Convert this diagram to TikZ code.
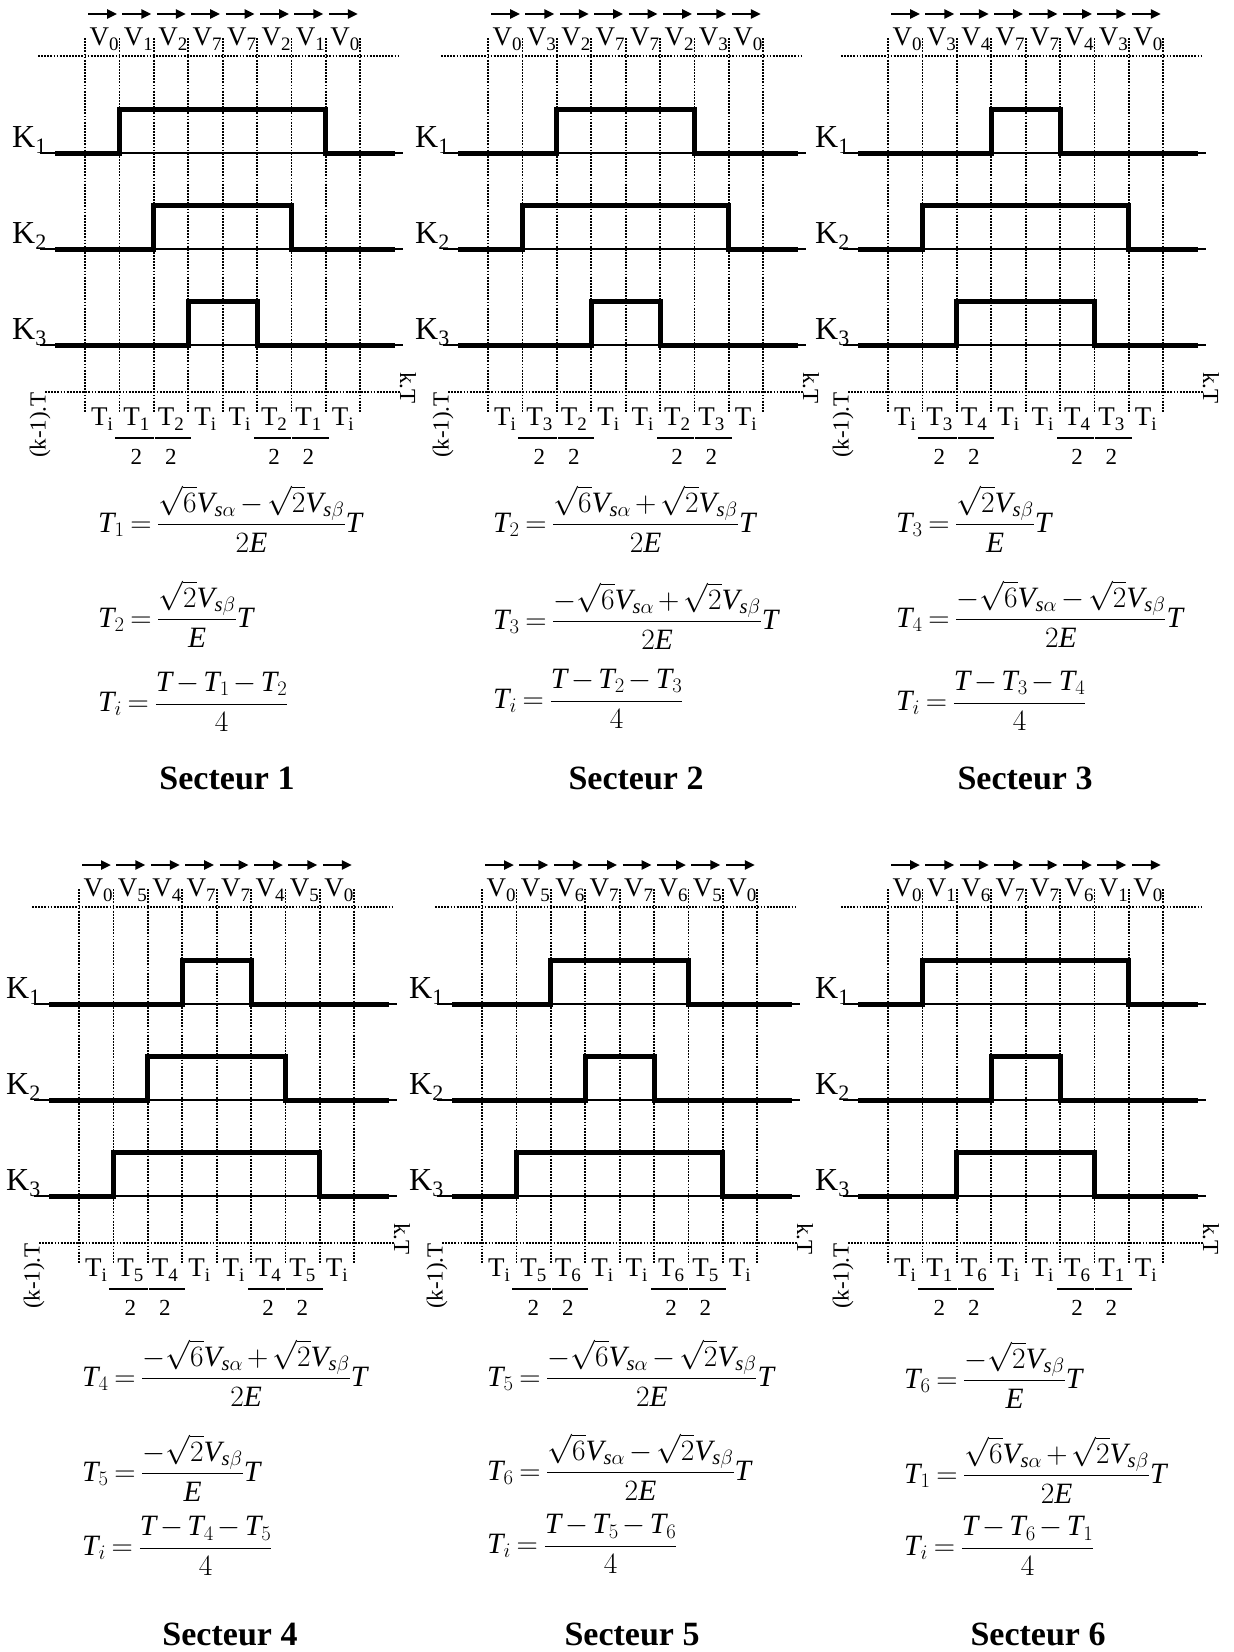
\RequirePackage{fix-cm}
\documentclass[tikz,border=0pt]{standalone}
\usepackage{amsmath}
\usepackage{fontspec}
\setmainfont{Liberation Serif}
\usetikzlibrary{arrows.meta}
\newcommand\iT{\textit{T}}
\newcommand\iV{\textit{V}}
\newcommand\iE{\textit{E}}
\newcommand\iS{\textit{s}}
\newcommand\sbx[2][19]{\raisebox{-0.2em}{\fontsize{#1}{#1}\selectfont #2}}
\newcommand\eqset{\fontsize{29.5}{36}\selectfont\medmuskip=2.5mu\thickmuskip=3.5mu}
\tikzset{
 dotln/.style={line width=1.8pt, dash pattern=on 1.8pt off 1.3pt},
 mywave/.style={line width=5pt, line join=miter, line cap=butt},
 baseln/.style={line width=1.2pt},
 myvec/.style={line width=2.4pt, -{Triangle[length=10pt,width=9pt]}},
 vlab/.style={inner sep=0pt, anchor=base, font=\fontsize{27}{30}\selectfont},
 tlab/.style={inner sep=0pt, anchor=base, font=\fontsize{27}{30}\selectfont},
 klab/.style={inner sep=0pt, anchor=base west, font=\fontsize{32}{36}\selectfont},
 twolab/.style={inner sep=0pt, anchor=base, font=\fontsize{23}{26}\selectfont},
 fbar/.style={line width=2.6pt},
 sidelab/.style={inner sep=0pt, font=\fontsize{23}{26}\selectfont},
 eqn/.style={inner sep=0pt, anchor=west, font=\eqset},
 sectitle/.style={inner sep=0pt, font=\fontsize{34}{40}\selectfont\bfseries},
}
\begin{document}
\begin{tikzpicture}[x=1pt,y=-1pt]
\fill[white] (0,0) rectangle (1234,1652);
\useasboundingbox (0,0) rectangle (1234,1652);
\foreach \sx/\sy/\sn/\va/\vb/\ka/\kb/\kc in {85/0/1/1/2/2/3/4, 488/0/2/3/2/3/2/4, 888/0/3/3/4/4/2/3, 79/851/4/5/4/4/3/2, 482/851/5/5/6/3/4/2, 888/851/6/1/6/2/4/3}{
  \draw[dotln] ({\sx-47},{\sy+56}) -- ({\sx+315},{\sy+56});
  \draw[dotln] ({\sx-40},{\sy+392}) -- ({\sx+315},{\sy+392});
  \foreach \idx in {0,...,8}
    \draw[dotln] ({\sx+\idx*34.4},{\sy+38}) -- ({\sx+\idx*34.4},{\sy+412});
  \foreach \vv [count=\idx from 0] in {0,\va,\vb,7,7,\vb,\va,0}{
    \draw[myvec] ({\sx+\idx*34.4+3},{\sy+14}) -- ({\sx+\idx*34.4+32},{\sy+14});
    \node[vlab] (v\sn-\idx) at ({\sx+\idx*34.4+19},{\sy+45}) {V\sbx{\vv}};
  }
  \foreach \tq [count=\idx from 0] in {i,\va,\vb,i,i,\vb,\va,i}
    \node[tlab] (t\sn-\idx) at ({\sx+\idx*34.4+17},{\sy+425}) {T\sbx{\tq}};
  \draw[fbar] ({\sx+1*34.4-4},{\sy+438}) -- ({\sx+2*34.4},{\sy+438});
  \draw[fbar] ({\sx+2*34.4+1},{\sy+438}) -- ({\sx+3*34.4+3},{\sy+438});
  \draw[fbar] ({\sx+5*34.4-3},{\sy+438}) -- ({\sx+6*34.4},{\sy+438});
  \draw[fbar] ({\sx+6*34.4+1},{\sy+438}) -- ({\sx+7*34.4+3},{\sy+438});
  \foreach \idx in {1,2,5,6}
    \node[twolab] (d\sn-\idx) at ({\sx+\idx*34.4+17},{\sy+464}) {2};
  \foreach \kk/\st in {1/\ka,2/\kb,3/\kc}{
    \pgfmathsetmacro\lo{\sy+153+(\kk-1)*96}
    \draw[baseln] ({\sx-45},\lo) -- ({\sx+318},\lo);
    \draw[mywave] ({\sx-30},\lo) -- ({\sx+(\st-1)*34.4},\lo) -- ({\sx+(\st-1)*34.4},{\lo-44}) -- ({\sx+(9-\st)*34.4},{\lo-44}) -- ({\sx+(9-\st)*34.4},\lo) -- ({\sx+310},\lo);
    \node[klab] (k\sn-\kk) at ({\sx-73},{\lo-6}) {K\sbx[22]{\kk}};
  }
  \node[sidelab, rotate=90, anchor=east] (a\sn) at ({\sx-45},{\sy+392}) {(k-1).T};
  \node[sidelab, rotate=-90] (b\sn) at ({\sx+323},{\sy+388}) {k.T};
}
% Sector 1
\node[eqn] (e1a) at (98,519) {$\iT_1=\dfrac{\sqrt{6}\iV_{\iS\alpha}-\sqrt{2}\iV_{\iS\beta}}{2\iE}\iT$};
\node[eqn] (e1b) at (98,614) {$\iT_2=\dfrac{\sqrt{2}\iV_{\iS\beta}}{\iE}\iT$};
\node[eqn] (e1c) at (98,702) {$\iT_i=\dfrac{\iT-\iT_1-\iT_2}{4}$};
\node[sectitle] (s1) at (227,778) {Secteur 1};
% Sector 2
\node[eqn] (e2a) at (493,519) {$\iT_2=\dfrac{\sqrt{6}\iV_{\iS\alpha}+\sqrt{2}\iV_{\iS\beta}}{2\iE}\iT$};
\node[eqn] (e2b) at (493,616) {$\iT_3=\dfrac{-\sqrt{6}\iV_{\iS\alpha}+\sqrt{2}\iV_{\iS\beta}}{2\iE}\iT$};
\node[eqn] (e2c) at (493,699) {$\iT_i=\dfrac{\iT-\iT_2-\iT_3}{4}$};
\node[sectitle] (s2) at (636,778) {Secteur 2};
% Sector 3
\node[eqn] (e3a) at (896,519) {$\iT_3=\dfrac{\sqrt{2}\iV_{\iS\beta}}{\iE}\iT$};
\node[eqn] (e3b) at (896,614) {$\iT_4=\dfrac{-\sqrt{6}\iV_{\iS\alpha}-\sqrt{2}\iV_{\iS\beta}}{2\iE}\iT$};
\node[eqn] (e3c) at (896,701) {$\iT_i=\dfrac{\iT-\iT_3-\iT_4}{4}$};
\node[sectitle] (s3) at (1025,778) {Secteur 3};
% Sector 4
\node[eqn] (e4a) at (82,1373) {$\iT_4=\dfrac{-\sqrt{6}\iV_{\iS\alpha}+\sqrt{2}\iV_{\iS\beta}}{2\iE}\iT$};
\node[eqn] (e4b) at (82,1468) {$\iT_5=\dfrac{-\sqrt{2}\iV_{\iS\beta}}{\iE}\iT$};
\node[eqn] (e4c) at (82,1546) {$\iT_i=\dfrac{\iT-\iT_4-\iT_5}{4}$};
\node[sectitle] (s4) at (230,1634) {Secteur 4};
% Sector 5
\node[eqn] (e5a) at (487,1373) {$\iT_5=\dfrac{-\sqrt{6}\iV_{\iS\alpha}-\sqrt{2}\iV_{\iS\beta}}{2\iE}\iT$};
\node[eqn] (e5b) at (487,1467) {$\iT_6=\dfrac{\sqrt{6}\iV_{\iS\alpha}-\sqrt{2}\iV_{\iS\beta}}{2\iE}\iT$};
\node[eqn] (e5c) at (487,1544) {$\iT_i=\dfrac{\iT-\iT_5-\iT_6}{4}$};
\node[sectitle] (s5) at (632,1634) {Secteur 5};
% Sector 6
\node[eqn] (e6a) at (904,1375) {$\iT_6=\dfrac{-\sqrt{2}\iV_{\iS\beta}}{\iE}\iT$};
\node[eqn] (e6b) at (904,1470) {$\iT_1=\dfrac{\sqrt{6}\iV_{\iS\alpha}+\sqrt{2}\iV_{\iS\beta}}{2\iE}\iT$};
\node[eqn] (e6c) at (904,1546) {$\iT_i=\dfrac{\iT-\iT_6-\iT_1}{4}$};
\node[sectitle] (s6) at (1038,1634) {Secteur 6};
\end{tikzpicture}
\end{document}
